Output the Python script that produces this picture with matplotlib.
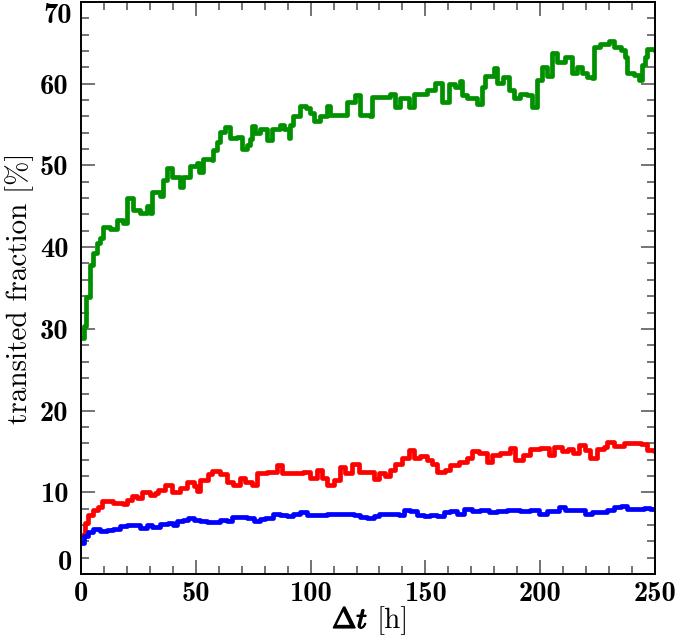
from matplotlib import pyplot as plt
from matplotlib import patheffects
import numpy as np

# step curves: time [h] and transited fraction [%]
green_t = [0, 1.5, 2.2, 3.9, 5.4, 6.8, 8.3, 9.7, 12.6, 15.5, 18.4, 19.9, 22.8, 25.7,
           28.6, 30.0, 30.8, 34.4, 35.6, 37.3, 39.5, 43.2, 44.6, 47.5, 50.4, 51.6,
           53.3, 56.9, 57.7, 59.2, 60.6, 62.8, 65.0, 67.9, 70.1, 72.3, 73.7, 74.4,
           76.0, 78.0, 80.9, 83.1, 86.7, 88.2, 90.4, 91.1, 92.5, 95.5, 98.0, 99.8,
           101.3, 104.2, 107.1, 108.5, 111.5, 115.8, 119.4, 121.6, 126.0, 126.7,
           130.3, 134.7, 136.9, 139.0, 142.7, 144.9, 150.7, 154.3, 157.2, 160.1,
           163.0, 165.2, 165.9, 168.1, 172.4, 174.6, 176.0, 179.7, 181.1, 184.0,
           186.2, 188.4, 191.0, 194.2, 196.3, 198.5, 200.7, 202.9, 205.0, 207.2,
           210.8, 213.9, 216.0, 218.2, 220.4, 222.6, 223.3, 226.2, 229.9, 232.0,
           235.0, 237.1, 237.9, 240.8, 242.9, 244.4, 245.8, 246.6, 249.5, 250]
green_v = [28.9, 30.3, 33.9, 37.8, 39.3, 40.5, 41.1, 42.5, 42.2, 43.3, 42.9, 46.0,
           44.6, 44.2, 45.0, 44.2, 46.7, 46.2, 48.2, 49.7, 48.6, 47.4, 48.6, 49.9,
           50.3, 49.2, 50.8, 50.7, 51.9, 52.9, 54.1, 54.7, 53.3, 53.5, 52.0, 52.5,
           53.2, 54.8, 54.0, 54.5, 53.1, 54.5, 55.0, 54.5, 53.3, 55.0, 56.0, 57.3,
           57.0, 56.4, 55.4, 56.0, 57.3, 56.2, 56.2, 57.8, 58.6, 56.2, 56.0, 58.4,
           58.4, 58.8, 57.2, 58.2, 57.2, 58.7, 59.2, 60.1, 57.8, 60.0, 59.6, 60.3,
           58.6, 58.2, 57.5, 59.6, 61.0, 61.9, 60.1, 60.8, 59.2, 58.3, 58.7, 58.6,
           57.2, 60.5, 62.1, 61.0, 63.7, 62.7, 63.3, 61.3, 62.1, 61.3, 60.8, 60.7,
           64.5, 64.9, 65.2, 64.5, 64.1, 63.3, 61.3, 61.1, 60.5, 62.3, 63.3, 64.3,
           64.1, 64.1]

red_t = [0, 1.7, 3.2, 5.4, 7.5, 9.0, 14.1, 18.4, 19.9, 22.1, 24.2, 26.5, 30.1, 32.3,
         33.7, 36.6, 39.5, 43.2, 46.1, 49.0, 50.4, 51.9, 55.5, 56.9, 60.6, 63.5,
         66.4, 69.3, 71.5, 74.4, 76.6, 79.0, 81.1, 85.3, 87.5, 90.4, 93.3, 96.9,
         99.8, 102.7, 104.9, 107.1, 110.0, 112.9, 115.0, 118.0, 120.9, 124.5, 127.4,
         129.6, 132.5, 134.7, 136.9, 139.8, 142.7, 144.9, 147.8, 150.7, 152.9, 155.1,
         158.7, 160.9, 164.5, 168.1, 170.3, 173.2, 176.8, 179.0, 182.6, 187.0, 189.1,
         192.7, 195.7, 200.0, 203.7, 205.8, 209.5, 212.3, 214.5, 216.7, 219.7, 221.8,
         224.7, 227.6, 229.1, 232.0, 236.3, 240.8, 243.7, 246.6, 249.5, 250]
red_v = [4.8, 6.2, 7.2, 7.8, 8.2, 8.9, 8.7, 8.6, 9.1, 9.5, 9.3, 10.0, 9.7, 9.9,
         10.3, 10.9, 10.0, 10.5, 11.3, 10.8, 10.1, 11.5, 12.2, 12.6, 12.2, 11.3,
         10.9, 11.7, 11.3, 10.9, 12.3, 12.4, 12.5, 13.3, 12.3, 12.4, 12.3, 12.5,
         11.8, 12.7, 11.7, 10.9, 11.5, 13.1, 12.3, 13.5, 12.5, 12.5, 11.6, 12.4,
         12.0, 12.7, 13.5, 14.2, 15.2, 14.2, 14.4, 14.0, 13.5, 12.5, 12.7, 13.3,
         13.7, 14.2, 15.0, 14.8, 13.7, 14.6, 14.8, 15.4, 14.0, 14.6, 15.3, 15.4,
         14.6, 15.6, 15.0, 15.3, 14.8, 15.8, 15.2, 14.2, 15.3, 15.6, 16.2, 15.7,
         16.0, 16.0, 15.9, 15.2, 15.0, 15.0]

blue_t = [0, 1.3, 3.2, 5.4, 8.3, 11.2, 14.1, 17.0, 19.9, 22.8, 25.7, 28.6, 30.8,
          34.4, 38.1, 40.2, 41.7, 44.6, 46.8, 49.0, 51.9, 54.8, 57.7, 60.6, 63.5,
          65.7, 69.3, 72.3, 75.2, 78.1, 80.3, 83.8, 86.7, 89.6, 92.5, 95.5, 98.4,
          101.3, 104.2, 107.1, 110.0, 112.9, 115.8, 118.7, 121.6, 124.5, 127.4,
          129.6, 133.2, 136.1, 138.3, 140.5, 143.4, 146.3, 149.2, 152.1, 155.0,
          157.9, 160.9, 163.8, 166.7, 170.3, 173.9, 177.5, 181.2, 185.5, 187.7,
          191.4, 195.7, 199.3, 202.9, 208.0, 211.0, 213.9, 216.7, 219.7, 222.6,
          226.2, 229.1, 232.0, 235.0, 237.9, 242.2, 245.1, 248.0, 250]
blue_v = [3.8, 4.6, 5.2, 5.5, 5.3, 5.4, 5.5, 5.9, 6.0, 6.0, 5.6, 6.0, 5.8, 6.1,
          6.2, 6.0, 6.5, 6.6, 6.9, 6.6, 6.5, 6.4, 6.4, 6.6, 6.5, 7.0, 7.0, 6.9,
          6.5, 6.7, 6.9, 7.3, 7.2, 7.1, 7.3, 7.6, 7.2, 7.2, 7.2, 7.4, 7.4, 7.3,
          7.3, 7.2, 7.0, 6.9, 7.1, 7.4, 7.4, 7.4, 7.2, 7.8, 7.7, 7.2, 7.1, 7.2,
          7.1, 7.6, 7.7, 7.4, 8.0, 7.7, 7.8, 7.6, 7.7, 7.8, 7.8, 7.7, 7.8, 7.4,
          7.7, 8.2, 7.8, 7.8, 7.8, 7.4, 7.6, 7.6, 7.8, 8.2, 8.3, 8.0, 7.9, 8.1,
          8.0, 7.9]

xticks = [0, 50, 100, 150, 200, 250]
yticks = [0, 10, 20, 30, 40, 50, 60, 70]

plt.rcParams['mathtext.fontset'] = 'cm'
plt.rcParams['axes.formatter.use_mathtext'] = True

fig = plt.figure(figsize=(6.76, 6.41), dpi=100)
ax = fig.add_axes([81/676, 1-574/641, 574/676, 572/641])

lw = 3.4
ax.step(green_t, green_v, where='post', color='#009000', lw=lw)
ax.step(red_t, red_v, where='post', color='#ff0000', lw=lw)
ax.step(blue_t, blue_v, where='post', color='#0000ff', lw=lw)

ax.set_xlim(0, 250)
ax.set_ylim(0, 70)
ax.set_xticks(xticks)
ax.set_yticks(yticks)
ax.set_xticks(np.arange(0, 251, 10), minor=True)
ax.set_yticks(np.arange(0, 71, 2), minor=True)
ax.set_xticklabels([str(v) for v in xticks], fontfamily='cmb10', fontsize=20.5)
# 0 and 70 are written by hand below, pulled inside the axis range as in the reference
ax.set_yticklabels([''] + [str(v) for v in yticks[1:-1]] + [''], fontfamily='cmb10', fontsize=20.5)
ylab_tr = ax.get_yaxis_transform()
ax.text(-0.016, 1.35, str(yticks[0]), transform=ylab_tr, ha='right', va='center',
        fontfamily='cmb10', fontsize=20.5)
ax.text(-0.016, 68.3, str(yticks[-1]), transform=ylab_tr, ha='right', va='center',
        fontfamily='cmb10', fontsize=20.5)

ax.tick_params(which='both', direction='in', top=True, right=True, color='0.3', width=1.1)
ax.tick_params(axis='x', which='major', pad=5)
ax.tick_params(axis='y', which='major', pad=9)
ax.tick_params(which='major', length=10)
ax.tick_params(which='minor', length=6)
for s in ax.spines.values():
    s.set_linewidth(1.4)

ax.set_ylabel('transited fraction [%]', fontfamily='cmr10', fontsize=21, labelpad=4)

# x label: bold Delta t, regular [h]
fig.text(368/676, 13/641, r'$\Delta t$', ha='right', va='baseline', fontsize=21,
         path_effects=[patheffects.withStroke(linewidth=1.0, foreground='black')])
fig.text(377/676, 13/641, '[h]', ha='left', va='baseline', fontfamily='cmr10', fontsize=21)

fig.savefig('out.png', dpi=100)
